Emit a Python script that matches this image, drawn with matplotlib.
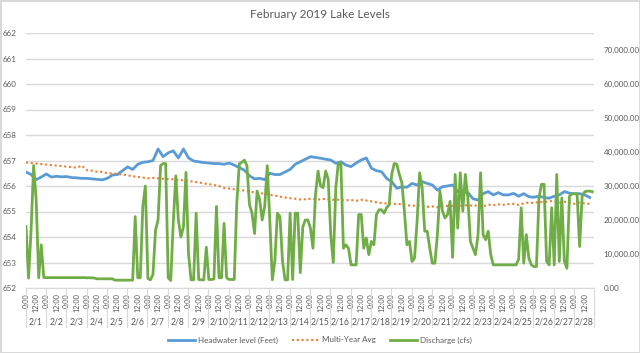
import numpy as np
import matplotlib
matplotlib.use("Agg")
import matplotlib.pyplot as plt
from matplotlib.transforms import blended_transform_factory
from matplotlib.ticker import FuncFormatter

plt.rcParams['font.family'] = ['Lato', 'DejaVu Sans']

# ---- data ----
days = [f"2/{d}" for d in range(1, 29)]
hour_labels = ["0:00", "12:00"]

# Headwater level (ft), 6-hourly (0,6,12,18h each day)
headwater = [
    656.55, 656.45, 656.25, 656.35,
    656.47, 656.35, 656.38, 656.36,
    656.37, 656.33, 656.32, 656.30,
    656.30, 656.28, 656.26, 656.24,
    656.30, 656.43, 656.45, 656.60,
    656.75, 656.65, 656.85, 656.93,
    656.95, 657.00, 657.45, 657.15,
    657.30, 657.38, 657.10, 657.45,
    657.10, 656.98, 656.95, 656.92,
    656.90, 656.88, 656.88, 656.85,
    656.90, 656.82, 656.72, 656.62,
    656.40, 656.28, 656.30, 656.25,
    656.50, 656.45, 656.45, 656.55,
    656.65, 656.85, 656.95, 657.05,
    657.15, 657.12, 657.09, 657.05,
    657.02, 656.89, 656.95, 656.82,
    656.76, 656.90, 657.02, 657.10,
    656.70, 656.60, 656.56, 656.30,
    656.17, 655.91, 655.97, 655.95,
    656.10, 656.04, 656.17, 656.10,
    656.04, 655.84, 655.97, 656.00,
    656.04, 655.78, 655.75, 655.74,
    655.50, 655.45, 655.70, 655.78,
    655.65, 655.74, 655.65, 655.65,
    655.71, 655.60, 655.70, 655.58,
    655.56, 655.60, 655.55, 655.52,
    655.60, 655.65, 655.78, 655.72,
    655.70, 655.70, 655.65, 655.55,
]

# Multi-year average (ft), 6-hourly
multi_year_avg = [
    656.92, 656.90, 656.88, 656.86,
    656.84, 656.82, 656.80, 656.78,
    656.76, 656.74, 656.72, 656.80,
    656.62, 656.60, 656.56, 656.55,
    656.50, 656.50, 656.47, 656.45,
    656.42, 656.38, 656.36, 656.33,
    656.30, 656.32, 656.30, 656.28,
    656.27, 656.26, 656.24, 656.22,
    656.20, 656.17, 656.14, 656.10,
    656.07, 656.04, 656.00, 655.92,
    655.90, 655.87, 655.85, 655.82,
    655.78, 655.75, 655.72, 655.70,
    655.66, 655.62, 655.58, 655.55,
    655.52, 655.50, 655.47, 655.48,
    655.50, 655.48, 655.47, 655.50,
    655.45, 655.47, 655.45, 655.44,
    655.45, 655.42, 655.46, 655.43,
    655.40, 655.36, 655.33, 655.32,
    655.32, 655.28, 655.30, 655.25,
    655.22, 655.24, 655.20, 655.18,
    655.20, 655.17, 655.20, 655.22,
    655.22, 655.20, 655.23, 655.25,
    655.22, 655.25, 655.20, 655.27,
    655.25, 655.28, 655.26, 655.29,
    655.30, 655.26, 655.32, 655.35,
    655.33, 655.38, 655.36, 655.40,
    655.42, 655.35, 655.38, 655.36,
    655.30, 655.35, 655.32, 655.30,
]

# Discharge (thousand cfs), 3-hourly
discharge_k = [
    18.1, 2.9, 17.0, 36.0, 26.0, 3.0, 12.7, 3.1,
    3.05, 3.05, 3.05, 3.05, 3.05, 3.05, 3.05, 3.05,
    3.05, 3.05, 3.05, 3.05, 3.05, 3.05, 3.05, 3.05,
    3.0, 3.0, 3.0, 2.9, 2.7, 2.7, 2.7, 2.7,
    2.7, 2.7, 2.7, 2.3, 2.3, 2.3, 2.3, 2.3,
    2.3, 2.3, 2.3, 21.0, 3.0, 3.0, 24.0, 30.0,
    2.8, 2.4, 4.0, 17.0, 20.0, 36.0, 36.6, 36.6,
    3.0, 2.2, 19.5, 33.0, 20.0, 15.0, 18.0, 34.0,
    10.0, 2.4, 2.4, 22.0, 2.5, 2.4, 2.4, 12.0,
    2.5, 2.5, 2.6, 24.0, 3.0, 3.0, 19.0, 3.0,
    2.5, 2.5, 2.5, 25.0, 36.5, 37.0, 37.6, 36.0,
    24.5, 22.0, 16.0, 28.5, 26.0, 20.0, 24.0, 36.0,
    20.0, 2.4, 8.0, 22.0, 21.0, 8.0, 2.4, 2.4,
    22.0, 2.5, 22.0, 22.0, 4.5, 18.0, 20.0, 20.0,
    17.6, 11.7, 27.5, 34.4, 30.0, 29.5, 34.4, 32.0,
    15.7, 7.5, 29.5, 36.9, 36.4, 11.7, 12.7, 11.7,
    6.8, 6.8, 6.8, 21.6, 21.6, 11.7, 14.7, 9.8,
    13.7, 12.7, 21.6, 23.0, 23.0, 22.0, 23.6, 24.5,
    33.4, 36.6, 36.4, 33.4, 31.0, 22.6, 12.7, 13.7,
    7.8, 8.8, 19.6, 33.9, 29.5, 16.7, 16.7, 11.7,
    7.3, 7.3, 15.7, 28.5, 22.6, 20.6, 21.6, 25.5,
    9.0, 33.4, 17.6, 33.9, 22.6, 33.4, 26.5, 13.7,
    11.7, 9.8, 15.7, 33.9, 15.7, 14.2, 16.7, 9.8,
    6.8, 6.8, 6.8, 6.8, 6.8, 6.8, 6.8, 6.8,
    6.8, 6.8, 8.5, 23.6, 7.3, 15.7, 8.8, 6.8,
    6.3, 6.3, 26.5, 30.5, 30.5, 7.8, 6.8, 23.6,
    6.8, 33.4, 7.8, 26.5, 7.8, 5.8, 27.0, 27.7,
    27.7, 27.7, 12.2, 27.0, 28.3, 28.5, 28.5, 28.3,
]

# ---- figure ----
W, H = 640, 353
fig = plt.figure(figsize=(W / 100, H / 100), dpi=100)
fig.patch.set_facecolor('white')
fig.patch.set_edgecolor('#D9D9D9')
fig.patch.set_linewidth(1.0)

L, R, T, B = 26, 594, 33, 288
ax = fig.add_axes([L / W, 1 - B / H, (R - L) / W, (B - T) / H])
ax2 = ax.twinx()

blue = '#5B9BD5'
orange = '#ED7D31'
green = '#70AD47'
gray = '#595959'
grid = '#D9D9D9'

n_hours = 28 * 24
x6 = np.arange(len(headwater)) * 6
x3 = np.arange(len(discharge_k)) * 3

lh, = ax.plot(x6, headwater, color=blue, lw=2.0, zorder=3)
lo, = ax.plot(x6, multi_year_avg, color=orange, lw=1.5, linestyle=(0, (1.0, 1.3)),
              dash_capstyle='butt', zorder=3)
lg, = ax2.plot(x3, np.array(discharge_k) * 1000, color=green, lw=2.0, zorder=3)

ax.set_xlim(0, n_hours - 1)
ax.set_ylim(652, 662)
ax.set_yticks(np.arange(652, 663, 1))
ax2.set_ylim(0, 75000)
ax2.set_yticks(np.arange(0, 70001, 10000))
ax2.yaxis.set_major_formatter(FuncFormatter(lambda v, p: f"{v:,.2f}"))

ax.grid(axis='y', color=grid, lw=1.0)
ax.set_axisbelow(True)
for a in (ax, ax2):
    for s in a.spines.values():
        s.set_visible(False)
ax.spines['bottom'].set_visible(True)
ax.spines['bottom'].set_color(grid)

ax.tick_params(axis='y', length=0, pad=7, labelsize=5.8, labelcolor=gray)
ax2.tick_params(axis='y', length=0, pad=7, labelsize=5.8, labelcolor=gray)

# x: hour labels rotated
xt = np.arange(0, n_hours, 12)
ax.set_xticks(xt)
ax.set_xticklabels([hour_labels[i % 2] for i in range(len(xt))], rotation=90,
                   fontsize=5.3, color=gray, va='top', ha='center')
ax.tick_params(axis='x', length=0, pad=4)

trans = blended_transform_factory(ax.transData, ax.transAxes)
sep_bottom = -(327 - 288) / (B - T)
for d in range(29):
    xx = min(d * 24 - 0.5, n_hours - 1) if d > 0 else 0
    ax.plot([xx, xx], [0, sep_bottom], transform=trans, color=grid, lw=0.8,
            clip_on=False)
day_y = -(322 - 288) / (B - T)
for d, lab in enumerate(days):
    ax.text(d * 24 + 11.5, day_y, lab, transform=trans, ha='center', va='center',
            fontsize=6.2, color=gray)

fig.text(0.5, 1 - 15 / H, "February 2019 Lake Levels", ha='center', va='center',
         fontsize=8.5, color=gray)

leg = fig.legend([lh, lo, lg], ["Headwater level (Feet)", "Multi-Year Avg", "Discharge (cfs)"],
                 loc='center', bbox_to_anchor=(0.5, 1 - 340 / H), ncol=3, frameon=False,
                 fontsize=5.8, handlelength=3.3, handletextpad=0.4, columnspacing=1.8,
                 labelcolor=gray)

fig.savefig('out.png', dpi=100)
